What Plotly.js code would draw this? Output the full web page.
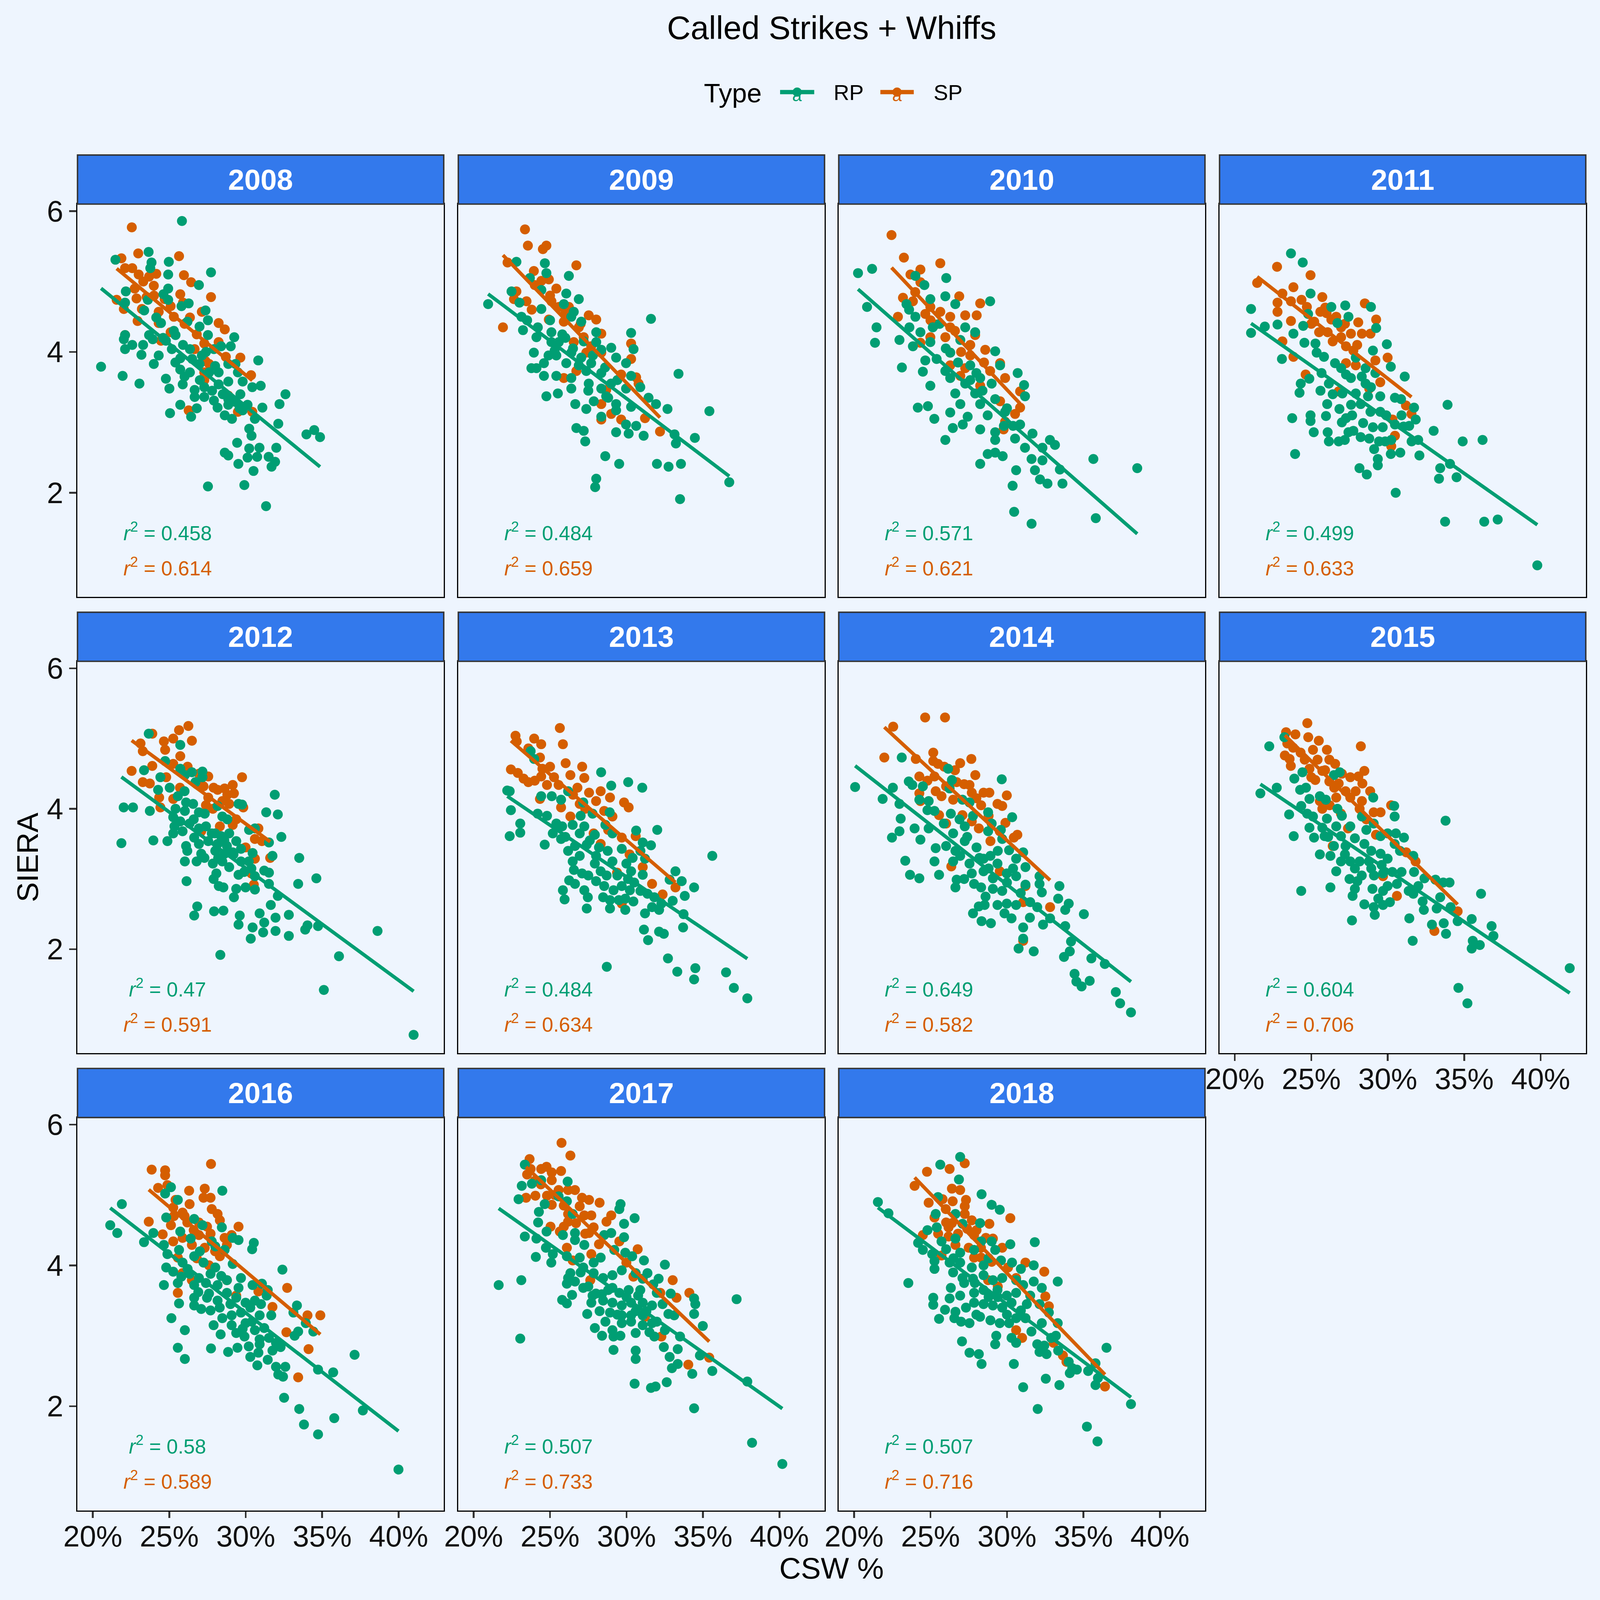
<!DOCTYPE html>
<html>
<head>
<meta charset="utf-8">
<script src="https://cdn.plot.ly/plotly-3.0.1.min.js"></script>
<style>
  html, body { margin: 0; padding: 0; background: #EEF5FE; overflow: hidden; }
</style>
</head>
<body>
<div id="chart"></div>
<script>
// CSW % (x, in percent) vs SIERA (y), one array of points per season and pitcher type
const years = ['2008', '2009', '2010', '2011', '2012', '2013', '2014', '2015', '2016', '2017', '2018'];

const rp2008 = [[25.83,5.86],[21.48,5.31],[23.65,5.42],[23.84,5.27],[23.76,5.19],[24.97,5.28],[24.93,5.10],[27.73,5.13],[26.94,4.95],[22.16,4.86],[24.93,4.90],[24.93,4.74],[24.62,4.82],[23.60,4.74],[22.11,4.70],[25.80,4.65],[26.27,4.69],[27.37,4.59],[27.53,4.45],[23.36,4.59],[24.15,4.49],[24.46,4.41],[26.19,4.43],[26.98,4.36],[22.11,4.24],[22.03,4.18],[23.68,4.24],[23.92,4.18],[27.53,4.24],[29.25,4.21],[24.78,4.16],[25.41,4.24],[22.11,4.04],[22.58,4.10],[23.29,4.10],[23.18,3.96],[24.31,3.95],[23.99,3.83],[25.17,4.04],[25.72,3.91],[26.35,4.04],[27.13,3.95],[27.92,4.04],[28.39,4.08],[29.02,4.08],[30.82,3.88],[20.54,3.79],[21.95,3.66],[23.05,3.55],[24.78,3.62],[25.72,3.75],[26.35,3.71],[26.98,3.83],[27.61,3.71],[28.23,3.71],[28.86,3.83],[29.49,3.71],[29.33,3.83],[25.01,3.48],[25.88,3.54],[26.66,3.46],[27.29,3.50],[28.23,3.54],[28.86,3.58],[29.80,3.58],[30.43,3.50],[30.98,3.52],[26.66,3.36],[27.29,3.36],[27.92,3.31],[28.86,3.33],[29.65,3.40],[25.72,3.25],[28.16,3.21],[28.86,3.25],[29.33,3.29],[30.12,3.25],[32.60,3.40],[32.21,3.26],[31.09,3.21],[25.05,3.13],[26.43,3.08],[28.63,3.10],[29.80,3.17],[32.13,2.98],[30.23,2.91],[30.38,2.81],[33.97,2.83],[34.48,2.89],[34.86,2.79],[29.44,2.71],[30.23,2.63],[30.90,2.64],[32.00,2.64],[28.63,2.57],[28.86,2.53],[30.12,2.50],[30.75,2.51],[31.50,2.51],[31.92,2.44],[29.52,2.41],[31.69,2.37],[30.51,2.31],[27.53,2.09],[29.91,2.11],[31.33,1.81],[25.30,4.30],[25.90,4.10],[26.50,3.90],[27.00,3.60],[27.80,3.45],[28.50,3.40],[29.10,3.05],[26.00,3.65],[24.60,4.20],[27.40,4.00],[28.00,3.80],[29.60,3.20],[30.60,3.05],[26.80,3.20],[25.40,3.85]];
const sp2008 = [[22.55,5.77],[21.87,5.33],[22.97,5.40],[25.64,5.36],[22.58,5.19],[22.11,5.19],[23.68,5.07],[24.15,5.11],[25.96,5.09],[26.43,4.99],[22.74,4.90],[23.99,4.94],[25.72,4.82],[27.73,4.78],[22.86,4.76],[21.56,4.74],[23.52,4.78],[22.03,4.61],[23.21,4.61],[25.09,4.65],[27.13,4.57],[22.93,4.44],[24.31,4.57],[26.35,4.49],[28.23,4.41],[28.63,4.32],[24.31,4.41],[25.09,4.28],[22.11,4.24],[24.46,4.16],[27.29,4.12],[28.23,4.14],[28.70,3.93],[29.65,3.92],[26.66,4.04],[27.37,3.87],[27.61,3.83],[27.29,3.71],[27.29,3.60],[30.35,3.67],[28.86,3.38],[29.49,3.15],[30.43,3.15],[26.27,3.17],[23.30,5.00],[24.00,4.80],[24.70,4.75],[25.30,4.50],[26.00,4.40],[26.80,4.25],[23.00,5.10],[25.90,4.70]];

const rp2009 = [[20.95,4.68],[22.80,5.28],[24.66,5.26],[22.48,4.86],[23.68,5.05],[24.76,5.12],[26.23,5.08],[24.43,4.88],[26.06,4.83],[26.88,4.75],[23.13,4.50],[23.23,4.31],[24.11,4.21],[23.94,3.99],[24.11,3.77],[24.60,3.84],[25.57,4.14],[25.09,4.28],[26.39,4.50],[26.55,4.57],[25.90,4.68],[24.43,4.61],[27.04,4.43],[28.02,4.28],[25.41,3.95],[26.39,3.99],[27.04,3.92],[28.35,4.03],[29.32,3.92],[30.46,4.04],[30.30,4.27],[31.60,4.47],[29.97,3.84],[24.60,3.66],[25.41,3.66],[26.39,3.63],[27.37,3.73],[28.35,3.70],[30.30,3.66],[26.39,3.48],[27.53,3.55],[28.35,3.48],[28.99,3.55],[29.97,3.48],[24.76,3.37],[25.51,3.41],[26.65,3.26],[27.86,3.30],[28.67,3.37],[29.32,3.26],[27.37,3.19],[28.35,3.08],[29.32,3.17],[30.30,3.22],[31.44,3.35],[31.93,3.26],[32.68,3.19],[33.40,3.69],[35.42,3.16],[26.72,2.92],[27.20,2.88],[27.30,2.73],[29.32,2.86],[30.14,2.84],[30.63,2.95],[31.12,2.81],[29.97,2.97],[33.23,2.70],[33.14,2.83],[34.47,2.78],[28.61,2.52],[29.52,2.41],[31.99,2.41],[32.75,2.37],[33.56,2.41],[28.02,2.20],[27.95,2.08],[33.50,1.91],[36.72,2.15],[23.78,3.77],[25.09,4.14],[28.02,4.14],[29.00,4.06],[26.88,3.81],[27.69,3.84],[26.06,3.84],[23.50,4.45],[24.20,4.35],[25.00,4.45],[25.80,4.25],[26.50,4.05],[27.20,4.15],[27.80,3.95],[28.60,3.78],[29.40,3.60],[25.30,4.02],[26.00,4.20],[27.50,3.45],[28.80,3.35],[30.90,3.50],[23.00,4.70],[24.90,3.95]];
const sp2009 = [[23.36,5.74],[23.55,5.51],[24.53,5.46],[24.76,5.51],[26.72,5.23],[22.22,5.27],[21.92,4.35],[23.94,5.15],[24.43,5.01],[24.92,5.03],[25.41,4.90],[22.80,4.86],[22.64,4.75],[23.46,4.72],[25.09,4.72],[25.57,4.64],[26.23,4.64],[27.53,4.52],[28.02,4.46],[24.92,4.46],[25.90,4.43],[26.88,4.35],[28.35,4.26],[27.20,4.21],[26.55,4.14],[27.69,4.08],[30.30,4.12],[28.35,3.99],[30.30,3.90],[25.90,3.63],[29.65,3.68],[30.63,3.64],[30.79,3.55],[28.67,3.46],[28.35,3.26],[29.00,3.12],[29.65,3.04],[28.35,3.04],[31.21,3.06],[32.19,2.87],[26.72,3.73],[27.37,3.99],[24.00,4.95],[25.00,4.80],[26.00,4.55],[27.00,4.40],[23.80,4.60]];

const rp2010 = [[20.26,5.12],[21.18,5.18],[20.85,4.64],[21.47,4.35],[21.37,4.13],[24.01,5.08],[24.60,4.95],[26.03,5.05],[23.13,3.78],[22.97,4.17],[23.43,4.68],[24.01,4.50],[23.62,4.35],[23.85,4.08],[24.99,4.75],[25.97,4.79],[26.62,4.68],[28.90,4.72],[24.34,4.28],[25.15,4.35],[24.99,4.14],[24.66,3.88],[24.50,3.72],[24.99,3.52],[24.17,3.21],[24.83,3.23],[25.25,3.05],[25.97,3.73],[26.29,3.99],[26.95,4.17],[27.27,4.35],[27.92,4.28],[29.23,4.01],[26.29,3.63],[27.60,3.81],[27.27,3.55],[28.25,3.63],[29.55,3.81],[30.70,3.70],[31.12,3.53],[26.62,3.41],[27.92,3.41],[29.23,3.33],[26.95,3.26],[28.25,3.26],[31.18,3.37],[26.29,3.14],[27.43,3.08],[28.74,3.10],[29.88,3.15],[26.46,2.92],[27.11,2.97],[28.25,2.90],[29.23,2.86],[30.86,2.97],[25.97,2.75],[29.23,2.75],[30.53,2.77],[31.67,2.84],[32.81,2.75],[31.18,2.64],[32.32,2.64],[28.74,2.55],[29.72,2.52],[28.25,2.41],[31.61,2.48],[32.32,2.46],[35.65,2.48],[38.52,2.35],[30.60,2.32],[31.83,2.32],[33.46,2.33],[32.16,2.19],[30.37,2.10],[32.65,2.13],[33.63,2.13],[30.47,1.73],[31.61,1.56],[35.81,1.64],[29.23,2.57],[33.14,2.68],[25.60,4.40],[26.00,4.05],[26.80,3.85],[27.60,3.60],[28.40,3.45],[29.00,3.55],[30.00,3.20],[25.40,3.90],[23.60,4.60],[28.00,3.70],[29.80,2.95],[30.40,2.95]];
const sp2010 = [[22.45,5.66],[23.26,5.34],[25.64,5.26],[24.34,5.17],[23.69,5.10],[24.34,4.99],[23.20,4.77],[23.85,4.72],[24.99,4.64],[26.88,4.79],[28.25,4.69],[28.02,4.52],[22.87,4.50],[24.66,4.54],[25.64,4.57],[26.29,4.50],[27.27,4.52],[25.32,4.39],[26.29,4.35],[25.97,4.21],[27.92,4.24],[27.60,4.10],[24.99,4.21],[28.58,4.03],[26.29,3.99],[27.60,3.95],[29.55,3.84],[28.90,3.73],[26.95,3.66],[29.88,3.63],[28.25,3.52],[30.86,3.44],[29.55,3.30],[30.86,3.21],[30.53,3.12],[29.88,3.01],[29.78,2.90],[26.29,3.81],[24.34,4.13],[27.27,3.77],[24.00,4.85],[25.00,4.45],[26.60,4.30],[27.00,4.00],[28.50,3.85]];

const rp2011 = [[23.67,5.40],[24.44,5.27],[24.95,4.83],[21.06,4.61],[21.06,4.27],[21.96,4.36],[22.79,4.39],[23.83,4.26],[23.08,3.90],[24.79,4.54],[24.47,4.37],[26.31,4.64],[27.22,4.66],[27.43,4.50],[28.90,4.64],[29.24,4.34],[29.94,4.11],[29.03,4.02],[27.91,3.92],[30.20,3.79],[31.11,3.65],[24.55,4.13],[25.27,4.12],[24.87,3.62],[24.31,3.55],[24.23,3.42],[25.67,3.70],[26.15,3.55],[26.95,3.77],[27.59,3.63],[28.55,3.77],[29.19,3.70],[27.91,3.41],[28.23,3.26],[28.71,3.37],[29.51,3.37],[30.47,3.35],[30.87,3.33],[31.72,3.21],[31.83,3.04],[26.04,3.26],[26.84,3.19],[25.96,3.09],[24.95,3.10],[24.95,3.02],[23.75,3.06],[25.16,2.86],[26.07,2.86],[26.15,2.73],[26.79,2.73],[27.19,2.75],[27.43,2.86],[27.75,2.88],[28.23,2.79],[28.79,2.77],[27.27,3.06],[27.67,3.10],[28.39,2.99],[29.03,2.93],[29.43,2.73],[29.83,2.73],[30.23,2.75],[29.11,2.62],[29.35,2.48],[29.35,2.39],[28.15,2.35],[28.63,2.26],[30.82,2.57],[30.47,2.97],[31.03,2.94],[31.56,2.73],[31.99,2.75],[32.07,2.53],[33.00,2.88],[33.91,3.25],[34.90,2.73],[36.20,2.75],[34.07,2.41],[33.43,2.35],[33.35,2.20],[34.50,2.22],[30.52,2.00],[23.94,2.55],[33.75,1.59],[36.31,1.59],[37.19,1.62],[39.78,0.97],[26.71,4.41],[25.35,3.99],[25.83,3.93],[26.55,3.84],[27.27,3.68],[28.55,3.55],[29.51,3.15],[28.87,3.15],[29.67,2.93],[27.03,3.41],[26.40,3.40],[27.60,3.25],[28.90,3.50],[29.90,3.10],[30.90,3.10],[27.00,3.00],[28.30,3.65],[25.60,3.45],[30.20,2.55],[31.40,2.95]];
const sp2011 = [[22.76,5.21],[24.95,5.09],[21.46,4.98],[23.83,4.92],[23.11,4.83],[22.79,4.70],[22.79,4.57],[23.67,4.72],[24.36,4.74],[24.71,4.64],[25.72,4.78],[23.67,4.44],[23.11,4.15],[23.83,3.93],[25.59,4.57],[25.91,4.63],[25.19,4.43],[25.51,4.28],[26.31,4.46],[26.63,4.50],[26.95,4.35],[26.07,4.28],[26.95,4.21],[27.27,4.08],[27.75,4.02],[28.07,4.42],[27.59,4.26],[28.31,4.26],[28.87,4.26],[28.50,4.69],[29.24,4.46],[29.99,3.92],[29.19,3.88],[29.51,3.57],[28.79,3.48],[26.79,3.44],[24.63,3.68],[31.19,3.24],[30.31,3.04],[30.47,2.81],[30.23,2.66],[27.91,3.81],[27.27,3.84],[31.55,3.12],[25.00,4.40],[26.00,4.55],[27.20,4.40],[28.00,4.10],[26.40,4.15]];

const rp2012 = [[23.66,5.07],[25.72,4.91],[24.73,4.68],[23.35,4.55],[25.72,4.57],[27.17,4.53],[26.48,4.52],[26.02,4.48],[24.42,4.45],[26.71,4.38],[27.17,4.45],[25.03,4.30],[24.27,4.27],[25.56,4.18],[26.10,4.09],[26.56,4.07],[28.16,4.04],[29.53,4.07],[29.76,4.06],[31.90,4.20],[31.34,3.95],[32.10,3.92],[22.02,4.02],[22.63,4.02],[23.73,3.97],[25.41,4.00],[26.02,3.97],[25.26,3.88],[26.94,3.95],[27.32,3.93],[28.47,3.89],[25.72,3.82],[26.33,3.79],[25.34,3.75],[26.94,3.72],[25.87,3.68],[25.26,3.65],[26.63,3.59],[27.78,3.65],[28.39,3.61],[28.92,3.65],[30.22,3.70],[30.60,3.72],[32.33,3.60],[21.87,3.51],[23.96,3.55],[24.88,3.54],[26.10,3.47],[26.94,3.50],[27.55,3.54],[28.16,3.50],[28.77,3.47],[29.38,3.54],[29.69,3.43],[31.52,3.52],[26.18,3.40],[27.09,3.36],[28.01,3.40],[28.62,3.36],[29.15,3.38],[30.45,3.37],[31.75,3.33],[33.50,3.30],[26.02,3.25],[26.79,3.25],[27.85,3.22],[28.47,3.25],[28.92,3.17],[29.69,3.25],[30.37,3.15],[31.21,3.12],[31.52,3.09],[28.08,3.08],[29.53,3.06],[30.60,3.04],[26.13,2.97],[34.62,3.01],[33.43,2.93],[28.24,2.90],[28.54,2.88],[29.38,2.86],[29.99,2.88],[30.60,2.85],[31.52,2.93],[32.10,2.76],[29.23,2.74],[31.64,2.63],[26.83,2.61],[26.63,2.48],[27.93,2.54],[28.54,2.55],[29.61,2.48],[30.91,2.51],[32.82,2.49],[31.95,2.45],[29.53,2.35],[31.21,2.38],[30.45,2.31],[34.04,2.34],[33.89,2.28],[34.73,2.33],[31.14,2.24],[31.95,2.26],[32.82,2.19],[30.33,2.15],[38.62,2.26],[28.34,1.92],[36.10,1.90],[35.11,1.42],[40.98,0.78],[27.40,3.75],[28.00,3.65],[28.60,3.55],[29.20,3.35],[27.30,3.30],[28.20,3.30],[29.90,3.10],[26.60,3.85],[27.90,3.00],[30.20,3.25],[26.00,4.25],[28.80,3.85]];
const sp2012 = [[26.25,5.18],[25.64,5.12],[23.89,5.07],[25.26,5.00],[26.48,4.97],[24.65,4.96],[23.12,4.93],[24.73,4.84],[25.72,4.75],[23.27,4.82],[25.26,4.64],[22.54,4.54],[23.89,4.61],[26.94,4.50],[27.55,4.46],[29.76,4.45],[23.27,4.38],[23.73,4.36],[29.15,4.34],[27.24,4.32],[28.16,4.27],[28.62,4.29],[29.23,4.22],[24.34,4.16],[25.26,4.14],[27.55,4.16],[28.47,4.11],[28.92,4.07],[29.84,4.02],[24.42,4.02],[27.85,4.00],[29.38,3.85],[30.83,3.72],[29.15,3.77],[30.60,3.57],[31.06,3.54],[29.99,3.45],[30.60,3.29],[30.37,3.08],[30.53,2.92],[28.31,3.75],[27.09,3.68],[31.60,3.30],[26.20,4.60],[26.80,4.35],[27.90,4.30],[28.80,4.20],[25.70,4.30],[24.80,4.45],[27.40,4.05]];

const rp2013 = [[23.73,4.82],[23.96,4.71],[22.36,4.25],[22.44,3.98],[23.05,3.79],[22.36,3.61],[23.05,3.66],[24.65,3.49],[24.19,3.93],[24.80,3.90],[24.42,4.18],[25.11,4.18],[25.72,4.13],[26.18,4.25],[27.17,4.09],[27.78,3.93],[28.34,4.52],[29.00,4.33],[30.11,4.38],[31.03,4.30],[32.01,3.70],[30.63,3.69],[31.06,3.52],[31.60,3.48],[25.41,3.79],[25.79,3.75],[25.18,3.65],[25.72,3.57],[26.48,3.77],[26.94,3.65],[27.24,3.75],[27.93,3.63],[28.62,3.77],[29.08,3.65],[26.18,3.40],[26.63,3.47],[26.94,3.33],[26.48,3.25],[27.40,3.49],[28.01,3.33],[27.93,3.22],[28.77,3.40],[29.08,3.25],[29.69,3.43],[29.99,3.22],[30.91,3.40],[31.21,3.29],[26.56,3.13],[27.09,3.08],[28.31,3.11],[30.30,3.11],[31.06,3.06],[26.25,2.98],[26.63,2.93],[28.01,2.97],[28.54,2.90],[27.24,2.84],[25.84,2.84],[25.95,2.71],[27.47,2.74],[28.47,2.74],[29.15,2.84],[29.69,2.90],[30.22,2.84],[30.91,2.83],[31.37,2.79],[28.92,2.70],[29.92,2.72],[30.45,2.68],[31.82,2.74],[32.28,2.65],[32.82,2.99],[33.20,3.11],[33.61,2.97],[34.42,2.88],[33.81,2.76],[33.02,2.69],[27.40,2.58],[28.92,2.58],[29.92,2.56],[31.21,2.51],[32.13,2.56],[31.67,2.60],[33.73,2.50],[33.70,2.31],[31.14,2.28],[32.13,2.25],[32.44,2.22],[31.41,2.13],[35.61,3.33],[32.71,1.87],[33.32,1.68],[34.50,1.73],[34.42,1.57],[36.51,1.67],[37.02,1.45],[37.90,1.30],[28.71,1.75],[22.20,4.26],[27.60,3.55],[28.20,3.45],[28.70,3.05],[29.40,3.05],[30.10,3.00],[30.50,2.95],[27.50,3.05],[29.50,2.70],[26.00,3.60],[27.00,3.90],[30.40,3.30],[28.90,3.95]];
const sp2013 = [[25.64,5.15],[22.74,5.04],[22.82,4.96],[23.96,5.00],[24.42,4.92],[25.84,4.92],[23.58,4.86],[24.34,4.73],[26.02,4.65],[22.44,4.56],[22.89,4.51],[23.27,4.43],[23.58,4.38],[24.50,4.57],[24.42,4.46],[25.26,4.45],[26.33,4.48],[27.24,4.44],[24.80,4.34],[25.56,4.34],[26.79,4.30],[27.55,4.23],[28.31,4.25],[28.92,4.16],[24.34,4.14],[25.72,4.02],[26.94,4.07],[28.01,4.11],[29.84,4.09],[30.14,4.02],[28.54,3.97],[29.08,3.89],[26.33,3.89],[27.85,3.65],[29.69,3.59],[30.60,3.61],[28.31,3.50],[31.06,3.17],[29.38,3.09],[31.67,2.93],[32.36,2.78],[33.20,2.88],[29.69,2.65],[25.00,4.60],[26.50,4.20],[27.30,4.00],[28.80,3.70],[24.00,4.40],[30.20,3.35],[27.10,4.60]];

const rp2014 = [[20.07,4.31],[21.87,4.14],[22.54,4.30],[22.97,4.07],[23.12,4.73],[23.58,4.39],[23.81,4.34],[23.05,3.86],[22.97,3.68],[22.48,3.59],[23.96,3.72],[24.34,3.56],[23.35,3.26],[23.66,3.06],[24.27,3.01],[24.50,4.32],[24.27,4.13],[24.88,4.11],[24.80,3.98],[25.26,3.97],[24.88,3.72],[25.34,3.44],[25.26,3.25],[25.56,3.06],[26.15,4.57],[26.40,4.41],[26.25,4.29],[27.09,4.13],[27.55,4.09],[26.33,3.93],[25.87,3.79],[26.48,3.65],[27.24,3.75],[27.78,3.90],[28.77,3.95],[29.00,3.79],[28.77,3.68],[29.66,4.42],[30.34,3.88],[29.69,3.57],[30.14,3.41],[31.06,3.38],[26.02,3.47],[26.63,3.40],[27.24,3.54],[28.01,3.45],[26.48,3.25],[26.94,3.33],[27.55,3.22],[28.47,3.29],[28.92,3.33],[29.38,3.22],[30.60,3.29],[31.21,3.17],[27.70,3.08],[28.47,3.11],[29.08,3.01],[29.99,3.08],[30.60,3.04],[26.71,2.99],[26.63,2.88],[27.85,2.93],[28.31,2.88],[29.08,2.86],[29.69,2.83],[31.21,2.92],[32.13,3.04],[32.13,2.93],[33.43,2.90],[32.28,2.81],[31.52,2.67],[31.98,2.60],[33.35,2.72],[34.04,2.65],[33.81,2.56],[35.03,2.50],[28.16,2.61],[28.54,2.63],[27.78,2.51],[29.38,2.63],[29.99,2.65],[30.60,2.63],[29.84,2.51],[30.30,2.44],[28.34,2.40],[28.95,2.37],[31.06,2.31],[32.36,2.35],[32.82,2.44],[33.81,2.33],[31.06,2.15],[30.76,2.01],[31.75,1.97],[34.19,2.11],[33.73,1.89],[34.11,1.97],[35.52,1.87],[36.40,1.79],[34.42,1.65],[34.54,1.54],[34.88,1.47],[35.41,1.55],[37.12,1.39],[37.40,1.23],[38.11,1.10],[27.40,3.60],[28.20,3.30],[28.80,3.15],[29.40,3.40],[30.00,2.95],[30.90,2.80],[27.20,3.00],[29.60,3.70],[30.40,3.15],[26.90,3.85],[28.60,2.75],[31.50,2.45]];
const sp2014 = [[24.65,5.30],[25.95,5.30],[22.56,5.17],[21.98,4.73],[24.04,4.71],[25.18,4.80],[25.18,4.68],[25.49,4.64],[26.94,4.65],[27.67,4.71],[24.27,4.46],[25.26,4.46],[25.34,4.25],[26.02,4.32],[26.71,4.38],[27.93,4.48],[27.55,4.34],[27.70,4.23],[24.27,4.22],[24.34,4.11],[25.72,4.18],[26.48,4.13],[28.47,4.23],[28.85,4.23],[29.99,4.19],[28.31,4.05],[29.38,4.07],[29.69,4.04],[25.56,3.91],[26.02,3.79],[27.09,3.91],[27.70,3.82],[28.16,3.72],[29.53,3.68],[28.92,3.54],[30.68,3.63],[30.45,3.59],[26.36,3.18],[29.53,3.11],[31.21,2.90],[31.06,2.67],[32.82,2.60],[31.06,2.12],[25.90,4.60],[26.60,4.55],[27.20,4.35],[28.00,4.15],[28.80,3.90],[29.90,3.80],[24.80,4.40]];

const rp2015 = [[21.67,4.22],[22.25,4.89],[23.24,5.02],[22.74,4.30],[23.55,3.92],[23.85,3.61],[23.89,4.43],[24.42,4.52],[24.27,4.27],[24.65,4.30],[24.88,4.14],[24.34,4.04],[24.73,3.93],[25.11,3.89],[24.88,3.73],[25.18,3.59],[24.34,2.83],[25.56,4.18],[25.95,4.13],[26.48,4.48],[26.86,4.52],[26.71,4.00],[26.02,3.86],[25.72,3.73],[26.63,3.75],[25.87,3.61],[26.94,3.61],[27.55,3.75],[28.31,3.89],[29.08,3.79],[29.05,4.16],[26.48,3.47],[25.56,3.35],[26.25,3.33],[27.24,3.47],[27.85,3.58],[28.47,3.50],[28.92,3.40],[29.53,3.61],[29.99,3.65],[30.53,3.65],[31.06,3.59],[30.45,3.50],[30.42,4.04],[30.45,3.89],[33.78,3.83],[26.94,3.25],[26.63,3.11],[27.55,3.25],[27.85,3.15],[28.16,3.25],[28.77,3.25],[29.53,3.36],[29.99,3.29],[31.67,3.33],[31.72,3.10],[28.92,3.15],[29.69,3.08],[28.01,2.97],[26.25,2.88],[27.85,2.86],[27.70,2.76],[29.00,2.86],[29.69,2.83],[29.99,2.90],[30.60,2.93],[31.37,2.83],[32.40,3.01],[33.12,2.99],[33.63,2.95],[34.04,2.95],[28.47,2.64],[29.08,2.60],[29.69,2.63],[30.14,2.67],[29.38,2.72],[31.67,2.79],[32.28,2.68],[33.43,2.74],[32.36,2.56],[33.20,2.58],[34.11,2.60],[29.15,2.49],[27.66,2.41],[31.41,2.44],[32.89,2.35],[33.66,2.37],[34.57,2.40],[35.49,2.43],[33.81,2.22],[36.79,2.33],[36.91,2.19],[35.56,2.12],[36.02,2.06],[35.49,2.01],[36.10,2.79],[31.63,2.12],[34.62,1.45],[35.21,1.23],[41.90,1.73],[26.10,3.60],[27.00,3.90],[27.50,3.00],[28.30,3.05],[29.10,3.05],[29.60,3.20],[30.30,3.10],[30.90,3.10],[28.60,3.70],[27.20,3.35],[30.80,3.40],[32.00,2.90]];
const sp2015 = [[24.74,5.22],[23.35,5.09],[23.96,5.06],[24.80,5.02],[25.49,4.97],[23.43,4.93],[28.24,4.89],[23.81,4.87],[25.11,4.84],[26.02,4.84],[23.27,4.76],[23.58,4.71],[24.57,4.70],[25.41,4.70],[26.18,4.70],[26.56,4.64],[23.66,4.61],[24.88,4.57],[25.72,4.54],[28.47,4.54],[27.55,4.45],[28.08,4.46],[25.26,4.41],[26.18,4.39],[26.79,4.36],[28.34,4.36],[27.24,4.25],[28.85,4.25],[25.56,4.11],[26.63,4.16],[27.55,4.16],[28.31,4.11],[25.72,4.00],[28.16,4.00],[30.22,4.05],[26.94,3.93],[29.08,3.95],[29.53,3.95],[27.40,3.72],[29.23,3.63],[26.40,3.47],[31.21,3.38],[31.82,3.25],[29.69,3.04],[30.60,2.76],[34.57,2.54],[33.05,2.26],[24.30,4.80],[25.00,4.45],[25.90,4.55],[26.50,4.30],[27.00,4.50],[27.90,4.25],[28.60,3.85],[26.20,4.05]];

const rp2016 = [[21.90,4.87],[21.14,4.57],[21.60,4.46],[23.35,4.33],[23.96,4.46],[25.11,5.11],[24.73,5.02],[25.56,4.93],[24.80,4.68],[28.47,5.06],[26.63,4.66],[27.17,4.57],[25.72,4.48],[26.40,4.38],[24.65,4.29],[24.88,4.16],[25.64,4.22],[27.78,4.34],[28.01,4.27],[28.62,4.22],[28.44,4.54],[29.15,4.39],[29.53,4.36],[30.53,4.32],[30.42,4.23],[24.80,3.97],[25.26,3.91],[25.87,4.04],[26.63,4.13],[27.24,4.04],[28.01,3.97],[29.15,4.02],[26.33,3.88],[26.94,3.82],[27.70,3.88],[24.65,3.72],[25.56,3.75],[25.79,3.84],[26.63,3.72],[27.40,3.75],[28.16,3.72],[28.77,3.79],[29.69,3.82],[29.53,3.68],[30.45,3.72],[31.06,3.74],[31.44,3.65],[32.40,3.94],[25.64,3.46],[26.63,3.54],[27.47,3.54],[28.16,3.50],[28.77,3.61],[29.38,3.54],[29.99,3.47],[30.60,3.50],[31.37,3.57],[26.63,3.43],[27.09,3.38],[27.70,3.36],[28.47,3.25],[29.08,3.29],[29.69,3.33],[30.30,3.40],[30.91,3.29],[31.67,3.29],[33.35,3.43],[33.12,3.33],[25.14,3.25],[29.08,3.15],[29.99,3.18],[30.60,3.08],[31.21,3.11],[33.93,3.18],[33.43,3.06],[34.42,3.06],[33.20,3.00],[26.02,3.08],[28.36,3.02],[29.38,3.04],[29.92,2.99],[30.91,2.95],[31.52,2.97],[31.98,2.90],[30.91,2.88],[25.56,2.83],[27.73,2.82],[28.85,2.77],[29.46,2.83],[30.83,2.76],[31.75,2.79],[32.28,2.84],[26.02,2.67],[30.30,2.70],[30.76,2.58],[31.44,2.66],[31.98,2.56],[32.59,2.56],[32.13,2.45],[32.44,2.42],[34.73,2.52],[35.72,2.48],[37.12,2.73],[32.51,2.12],[33.50,1.96],[33.81,1.74],[34.73,1.60],[35.79,1.83],[37.66,1.94],[39.99,1.10],[26.90,3.62],[27.60,3.60],[28.30,3.40],[29.00,3.45],[29.80,3.10],[30.40,3.20],[27.00,4.20],[28.40,3.85],[26.20,3.95],[30.20,2.85],[31.00,3.45],[27.90,3.15]];
const sp2016 = [[23.85,5.36],[24.73,5.35],[24.73,5.28],[27.73,5.44],[24.27,5.10],[24.88,5.14],[26.30,5.06],[27.32,5.09],[27.24,4.96],[27.70,4.96],[25.41,4.93],[26.33,4.87],[27.78,4.80],[25.26,4.82],[25.87,4.75],[28.16,4.73],[28.31,4.64],[23.66,4.62],[25.11,4.57],[26.18,4.61],[26.94,4.61],[27.47,4.55],[29.53,4.55],[24.57,4.44],[25.26,4.34],[25.87,4.39],[26.94,4.43],[28.62,4.39],[29.08,4.43],[26.48,4.29],[27.32,4.25],[28.77,4.29],[25.56,4.11],[28.31,4.13],[25.87,3.89],[26.48,3.79],[25.56,3.61],[28.77,3.79],[29.38,3.57],[30.83,3.63],[32.71,3.68],[31.75,3.41],[34.04,3.29],[34.88,3.29],[32.66,3.05],[34.11,2.81],[33.43,2.41],[26.00,4.70],[26.60,4.50],[27.70,4.45],[28.00,4.20],[25.30,4.70],[26.80,4.10],[27.60,4.00]];

const rp2017 = [[23.35,5.43],[23.15,5.13],[22.94,4.94],[23.81,5.16],[24.42,5.21],[26.15,5.19],[24.65,4.87],[24.27,4.76],[25.56,4.98],[26.10,4.91],[24.22,4.61],[23.35,4.41],[24.11,4.38],[24.77,4.48],[25.84,4.43],[24.73,4.25],[25.18,4.16],[25.08,4.04],[24.07,4.12],[26.48,4.73],[26.63,4.46],[26.63,4.36],[27.24,4.29],[29.61,4.87],[29.53,4.80],[30.53,4.67],[29.84,4.59],[29.00,4.46],[28.54,4.43],[29.84,4.40],[29.20,4.22],[29.92,4.18],[30.37,4.13],[31.14,4.07],[32.51,4.01],[26.10,4.13],[26.94,4.11],[27.85,4.04],[28.31,4.11],[27.17,3.97],[26.33,3.89],[26.18,3.82],[26.63,3.77],[27.17,3.68],[26.10,3.74],[27.85,3.89],[28.47,3.82],[29.08,3.86],[29.69,3.93],[30.60,3.89],[31.37,3.89],[31.06,3.81],[32.10,3.81],[31.75,3.73],[21.64,3.72],[23.12,3.79],[25.79,3.51],[26.44,3.58],[26.10,3.46],[27.78,3.57],[28.39,3.59],[29.08,3.68],[29.53,3.61],[30.14,3.65],[30.76,3.57],[31.98,3.61],[32.89,3.60],[27.70,3.47],[28.47,3.50],[29.08,3.47],[29.69,3.43],[30.30,3.47],[31.06,3.47],[31.67,3.43],[32.36,3.45],[34.42,3.53],[34.50,3.45],[27.43,3.31],[28.24,3.35],[28.92,3.33],[29.69,3.29],[30.30,3.29],[31.06,3.29],[32.74,3.31],[33.12,3.29],[34.42,3.31],[27.93,3.11],[28.62,3.20],[29.08,3.08],[29.69,3.18],[30.30,3.20],[30.60,3.04],[31.06,3.15],[31.67,3.18],[31.98,3.20],[32.51,3.08],[34.99,3.14],[31.82,2.99],[33.50,2.99],[29.15,2.99],[23.05,2.96],[29.15,2.80],[32.44,2.84],[33.35,2.81],[30.60,2.79],[30.60,2.67],[32.82,2.70],[33.35,2.60],[32.97,2.54],[34.80,2.72],[34.30,2.46],[35.61,2.50],[30.53,2.32],[31.60,2.26],[31.90,2.28],[32.63,2.34],[37.20,3.52],[37.90,2.35],[34.42,1.97],[38.21,1.48],[40.19,1.18],[27.50,3.70],[28.00,3.60],[28.80,3.65],[29.40,3.30],[30.00,3.55],[30.60,3.35],[31.30,3.35],[28.40,3.00],[29.60,3.00],[27.00,3.90],[30.90,3.65],[31.50,3.05]];
const sp2017 = [[25.75,5.74],[26.33,5.56],[23.66,5.51],[23.73,5.37],[24.42,5.37],[24.77,5.40],[25.11,5.32],[25.72,5.34],[23.50,5.29],[25.11,5.21],[25.56,5.07],[26.63,5.07],[26.18,5.07],[23.43,4.96],[24.04,4.99],[24.80,4.99],[27.09,4.96],[27.55,4.93],[28.24,4.89],[25.11,4.86],[26.94,4.84],[26.18,4.73],[27.24,4.71],[27.70,4.71],[29.00,4.71],[26.18,4.62],[25.03,4.55],[25.64,4.48],[27.85,4.54],[28.69,4.62],[27.55,4.46],[29.53,4.34],[30.73,4.23],[26.10,4.25],[26.48,4.07],[27.70,4.16],[29.99,4.04],[27.63,3.79],[30.45,3.84],[33.02,3.79],[32.21,3.61],[34.11,3.61],[33.27,3.54],[31.21,3.27],[32.28,2.99],[34.04,2.59],[35.41,2.69],[24.40,5.15],[25.30,5.00],[25.90,4.85],[26.70,4.60],[27.30,4.45],[28.20,4.30],[25.90,4.55],[24.00,5.20]];

const rp2018 = [[21.56,4.90],[22.25,4.74],[26.94,5.54],[25.64,5.43],[26.86,5.22],[28.34,5.01],[25.49,4.97],[29.00,4.86],[29.53,4.79],[26.63,4.73],[25.34,4.73],[27.09,4.59],[28.24,4.60],[24.80,4.50],[25.41,4.54],[24.19,4.32],[24.50,4.22],[25.11,4.16],[25.26,4.06],[25.26,3.95],[25.72,4.34],[26.02,4.23],[26.63,4.38],[26.94,4.18],[30.22,4.30],[31.82,4.33],[28.31,4.34],[29.00,4.34],[29.23,4.22],[27.85,4.22],[26.25,4.04],[26.94,4.04],[27.70,3.97],[28.47,4.00],[29.61,4.07],[30.33,4.04],[30.91,3.95],[31.75,4.00],[23.55,3.75],[26.48,3.90],[27.09,3.82],[27.78,3.81],[28.47,3.86],[29.08,3.79],[29.69,3.82],[30.60,3.79],[31.06,3.72],[31.75,3.77],[32.28,3.68],[33.32,3.77],[26.33,3.68],[26.94,3.57],[27.85,3.61],[28.47,3.65],[29.38,3.65],[29.99,3.57],[30.60,3.61],[31.52,3.57],[25.18,3.54],[25.18,3.44],[26.25,3.53],[25.95,3.37],[26.63,3.34],[27.32,3.40],[27.85,3.47],[28.47,3.45],[29.08,3.43],[29.69,3.40],[30.30,3.47],[30.91,3.36],[32.13,3.45],[32.74,3.33],[25.56,3.24],[26.56,3.25],[27.55,3.18],[28.24,3.27],[28.92,3.22],[29.53,3.18],[30.14,3.18],[31.21,3.25],[32.28,3.18],[33.32,3.18],[31.60,3.06],[32.89,2.97],[33.20,3.00],[27.06,2.92],[29.23,2.88],[30.30,2.97],[30.60,2.90],[31.98,2.88],[32.44,2.86],[32.13,2.77],[32.59,2.74],[33.35,2.79],[36.51,2.83],[27.55,2.76],[28.16,2.74],[28.34,2.60],[30.45,2.60],[34.04,2.63],[34.27,2.54],[34.11,2.47],[34.57,2.52],[35.31,2.50],[35.79,2.61],[35.95,2.40],[35.79,2.30],[32.54,2.39],[33.43,2.30],[31.06,2.27],[32.01,1.96],[38.11,2.03],[35.23,1.71],[35.92,1.50],[27.20,3.75],[27.90,3.75],[28.80,3.55],[29.40,3.55],[30.00,3.30],[30.60,3.25],[27.00,3.20],[28.00,3.30],[29.30,3.00],[26.50,4.10],[31.30,3.45],[28.80,4.10]];
const sp2018 = [[27.24,5.45],[24.77,5.33],[26.25,5.37],[23.96,5.13],[26.40,5.09],[26.94,5.07],[25.79,4.94],[26.45,4.91],[27.32,4.93],[24.88,4.89],[27.24,4.84],[27.24,4.73],[30.22,4.67],[25.26,4.68],[26.02,4.61],[27.70,4.64],[28.85,4.59],[26.18,4.54],[27.40,4.52],[28.01,4.50],[24.50,4.43],[26.18,4.41],[27.85,4.43],[28.62,4.39],[29.08,4.38],[26.63,4.29],[29.69,4.25],[25.72,4.14],[27.85,4.11],[28.31,4.11],[31.21,4.04],[32.44,3.91],[30.07,3.97],[28.77,3.79],[30.60,3.82],[32.51,3.56],[32.74,3.42],[31.21,3.25],[30.60,3.08],[30.99,2.97],[33.05,2.90],[33.66,2.72],[33.89,2.63],[36.41,2.28],[25.50,4.45],[26.40,4.60],[26.80,4.45],[27.50,4.25],[28.30,4.25],[29.00,4.05],[29.40,3.70],[26.00,4.80]];

const rpPoints = [rp2008, rp2009, rp2010, rp2011, rp2012, rp2013, rp2014, rp2015, rp2016, rp2017, rp2018];
const spPoints = [sp2008, sp2009, sp2010, sp2011, sp2012, sp2013, sp2014, sp2015, sp2016, sp2017, sp2018];

// r-squared labels as printed in each panel
const rpR2 = ['0.458', '0.484', '0.571', '0.499', '0.47', '0.484', '0.649', '0.604', '0.58', '0.507', '0.507'];
const spR2 = ['0.614', '0.659', '0.621', '0.633', '0.591', '0.634', '0.582', '0.706', '0.589', '0.733', '0.716'];

const xTickVals = [20, 25, 30, 35, 40];
const xTickText = ['20%', '25%', '30%', '35%', '40%'];
const yTickVals = [2, 4, 6];

// look
const GREEN = '#009E73';
const ORANGE = '#D55E00';
const BG = '#EEF5FE';
const STRIP = '#3379EC';
const FONT = 'Liberation Sans, Arial, sans-serif';

// the layout is measured on a 4500 px square; scale it to whatever the window really is
const BASE = 4500;
const W = Math.floor(Math.min(window.innerWidth || BASE, window.innerHeight || BASE));
const S = W / BASE;

// panel boxes in base pixels (left/right, top/bottom)
const colPx = [[218, 1248], [1289, 2319], [2359, 3389], [3430, 4460]];
const rowPx = [[574, 1679], [1860, 2962], [3143, 4248]];
const STRIP_H = 138;

function px(v) { return v / BASE; }
function py(v) { return 1 - v / BASE; }

// least squares line over the range of the group's x values
function fitLine(pts) {
    const n = pts.length;
    let sx = 0, sy = 0, sxx = 0, sxy = 0;
    pts.forEach(([x, y]) => { sx += x; sy += y; sxx += x * x; sxy += x * y; });
    const b = (n * sxy - sx * sy) / (n * sxx - sx * sx);
    const a = (sy - b * sx) / n;
    const xs = pts.map(p => p[0]);
    const x0 = Math.min(...xs), x1 = Math.max(...xs);
    return { x: [x0, x1], y: [a + b * x0, a + b * x1] };
}

const traces = [];
const annotations = [];
const shapes = [];
const layout = {
    width: W,
    height: W,
    margin: { l: 0, r: 0, t: 0, b: 0 },
    paper_bgcolor: BG,
    plot_bgcolor: BG,
    showlegend: false,
    font: { family: FONT, color: '#000000' },
    title: {
        text: 'Called Strikes + Whiffs',
        font: { family: FONT, size: 92 * S, color: '#000000' },
        x: px(2339), xanchor: 'center',
        y: py(78), yanchor: 'middle'
    }
};

years.forEach((yr, i) => {
    const col = i % 4, row = Math.floor(i / 4);
    const n = i === 0 ? '' : String(i + 1);
    const xa = 'x' + n, ya = 'y' + n;
    const showX = row === 2 || (row === 1 && col === 3);
    const showY = col === 0;

    layout['xaxis' + n] = {
        domain: [px(colPx[col][0]), px(colPx[col][1])],
        anchor: ya,
        range: [19, 42.95],
        tickvals: xTickVals,
        ticktext: xTickText,
        showticklabels: showX,
        ticks: showX ? 'outside' : '',
        ticklen: 18 * S, tickwidth: 5 * S, tickcolor: '#333333',
        ticklabelstandoff: Math.round(-20 * S),
        tickfont: { family: FONT, size: 83 * S, color: '#111111' },
        showgrid: false, zeroline: false,
        showline: true, mirror: true, linecolor: '#000000', linewidth: 3.5 * S
    };
    layout['yaxis' + n] = {
        domain: [py(rowPx[row][1]), py(rowPx[row][0])],
        anchor: xa,
        range: [0.52, 6.10],
        tickvals: yTickVals,
        showticklabels: showY,
        ticks: showY ? 'outside' : '',
        ticklen: 20 * S, tickwidth: 5 * S, tickcolor: '#333333',
        tickfont: { family: FONT, size: 83 * S, color: '#111111' },
        showgrid: false, zeroline: false,
        showline: true, mirror: true, linecolor: '#000000', linewidth: 3.5 * S
    };

    [[spPoints[i], ORANGE], [rpPoints[i], GREEN]].forEach(([pts, color]) => {
        traces.push({
            type: 'scatter', mode: 'markers', xaxis: xa, yaxis: ya,
            x: pts.map(p => p[0]), y: pts.map(p => p[1]),
            marker: { size: 28 * S, color: color, line: { width: 0 } },
            hoverinfo: 'skip'
        });
    });
    [[rpPoints[i], GREEN], [spPoints[i], ORANGE]].forEach(([pts, color]) => {
        const f = fitLine(pts);
        traces.push({
            type: 'scatter', mode: 'lines', xaxis: xa, yaxis: ya,
            x: f.x, y: f.y,
            line: { color: color, width: 10 * S },
            hoverinfo: 'skip'
        });
    });

    // facet strip
    const top = rowPx[row][0];
    shapes.push({
        type: 'rect', xref: 'paper', yref: 'paper',
        x0: px(colPx[col][0]), x1: px(colPx[col][1]),
        y0: py(top), y1: py(top - STRIP_H),
        fillcolor: STRIP, line: { color: '#333333', width: 4 * S }
    });
    annotations.push({
        xref: 'paper', yref: 'paper',
        x: px((colPx[col][0] + colPx[col][1]) / 2), y: py(top - STRIP_H / 2),
        xanchor: 'center', yanchor: 'middle', showarrow: false,
        text: '<b>' + yr + '</b>',
        font: { family: FONT, size: 82 * S, color: '#FFFFFF' }
    });

    // r squared labels
    annotations.push({
        xref: xa, yref: ya, x: 24.9, y: 1.45,
        xanchor: 'center', yanchor: 'middle', showarrow: false,
        text: '<i>r</i><sup>2</sup> = ' + rpR2[i],
        font: { family: FONT, size: 57 * S, color: GREEN }
    });
    annotations.push({
        xref: xa, yref: ya, x: 24.9, y: 0.95,
        xanchor: 'center', yanchor: 'middle', showarrow: false,
        text: '<i>r</i><sup>2</sup> = ' + spR2[i],
        font: { family: FONT, size: 57 * S, color: ORANGE }
    });
});

// axis titles
annotations.push({
    xref: 'paper', yref: 'paper', x: px(2339), y: py(4411),
    xanchor: 'center', yanchor: 'middle', showarrow: false,
    text: 'CSW %', font: { family: FONT, size: 84 * S, color: '#000000' }
});
annotations.push({
    xref: 'paper', yref: 'paper', x: px(78), y: py(2411),
    xanchor: 'center', yanchor: 'middle', showarrow: false, textangle: -90,
    text: 'SIERA', font: { family: FONT, size: 84 * S, color: '#000000' }
});

// legend drawn by hand: title, then a line + dot + "a" key per type
annotations.push({
    xref: 'paper', yref: 'paper', x: px(1977), y: py(262),
    xanchor: 'left', yanchor: 'middle', showarrow: false,
    text: 'Type', font: { family: FONT, size: 75 * S, color: '#000000' }
});
[['RP', GREEN, 2194, 2290, 2342], ['SP', ORANGE, 2476, 2570, 2624]].forEach(([label, color, k0, k1, tx]) => {
    const cx = (k0 + k1) / 2, cy = 259;
    shapes.push({
        type: 'line', xref: 'paper', yref: 'paper',
        x0: px(k0), x1: px(k1), y0: py(cy), y1: py(cy),
        line: { color: color, width: 12 * S }
    });
    shapes.push({
        type: 'circle', xref: 'paper', yref: 'paper',
        x0: px(cx - 13), x1: px(cx + 13), y0: py(cy + 13), y1: py(cy - 13),
        fillcolor: color, line: { width: 0 }
    });
    annotations.push({
        xref: 'paper', yref: 'paper', x: px(cx), y: py(268),
        xanchor: 'center', yanchor: 'middle', showarrow: false,
        text: 'a', font: { family: FONT, size: 48 * S, color: color }
    });
    annotations.push({
        xref: 'paper', yref: 'paper', x: px(tx), y: py(260),
        xanchor: 'left', yanchor: 'middle', showarrow: false,
        text: label, font: { family: FONT, size: 61 * S, color: '#000000' }
    });
});

layout.annotations = annotations;
layout.shapes = shapes;

const el = document.getElementById('chart');
el.style.width = W + 'px';
el.style.height = W + 'px';
Plotly.newPlot(el, traces, layout, { staticPlot: true, displayModeBar: false });
</script>
</body>
</html>
